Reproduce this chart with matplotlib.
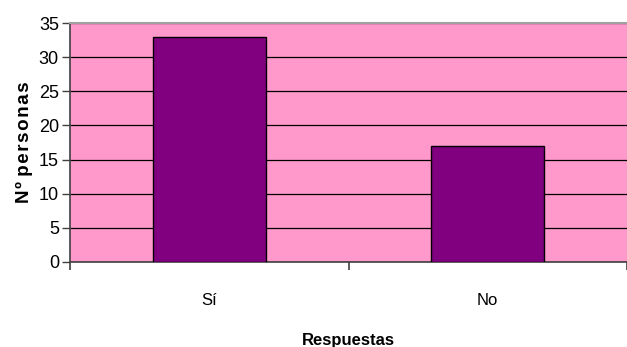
import matplotlib
matplotlib.use("Agg")
import matplotlib.pyplot as plt

categories = ["Sí", "No"]
values = [33, 17]
y_ticks = [0, 5, 10, 15, 20, 25, 30, 35]

plt.rcParams['font.family'] = ['Liberation Sans', 'DejaVu Sans']

fig = plt.figure(figsize=(6.27, 3.47), dpi=100)
ax = fig.add_axes([70 / 627, 85 / 347, 1 - 70 / 627, (262 - 23) / 347])
ax.set_facecolor("#FF99CC")

x = list(range(len(categories)))
ax.bar(x, values, width=0.405, color="#800080", edgecolor="black", linewidth=1.0, zorder=3)

ax.set_xlim(-0.5, len(categories) - 0.5)
ax.set_ylim(0, 35)
ax.set_yticks(y_ticks)
ax.yaxis.grid(True, color="black", linewidth=0.9, zorder=1)
ax.set_axisbelow(True)

ax.set_xticks(x)
ax.set_xticklabels(categories, fontsize=12)
ax.tick_params(axis="x", which="major", length=0, pad=22)
ax.set_xticks([i - 0.5 for i in range(len(categories) + 1)], minor=True)
ax.tick_params(axis="x", which="minor", length=6, width=1.2, color="#404040")
ax.tick_params(axis="y", length=6, width=1.0, color="#404040", labelsize=13, pad=2)

for side in ("left", "bottom"):
    ax.spines[side].set_color("#404040")
    ax.spines[side].set_linewidth(1.2)
ax.spines["top"].set_color("#A0A0A0")
ax.spines["top"].set_linewidth(1.5)
ax.spines["right"].set_visible(False)

ax.set_ylabel("N\u200aº p\u200ae\u200ar\u200as\u200ao\u200an\u200aa\u200as", fontsize=13.5,
              fontweight="bold", labelpad=4)
ax.set_xlabel("Respuestas", fontsize=12, fontweight="bold", labelpad=18)

fig.savefig("out.png", dpi=100)
